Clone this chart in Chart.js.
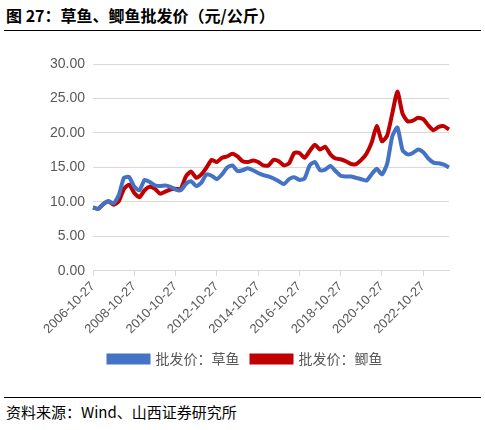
<!DOCTYPE html>
<html>
<head>
<meta charset="utf-8">
<script src="https://cdn.jsdelivr.net/npm/chart.js@4"></script>
<style>
body { margin: 0; background: #fff; font-family: "Noto Sans CJK SC", sans-serif; }
#title { position: absolute; left: 6px; top: 3px; font-size: 16px; font-weight: bold; color: #000; }
#topline { position: absolute; left: 4px; right: 4px; top: 30px; border-top: 1px solid #000; }
#wrap { position: absolute; left: 0; top: 40px; width: 485px; height: 340px; }
#botline { position: absolute; left: 4px; right: 4px; top: 397px; border-top: 1px solid #000; }
#source { position: absolute; left: 6px; top: 401px; font-size: 15px; color: #000; }
</style>
</head>
<body>
<div id="title">图 27：草鱼、鲫鱼批发价（元/公斤）</div>
<div id="topline"></div>
<div id="wrap"><canvas id="c"></canvas></div>
<div id="botline"></div>
<div id="source">资料来源：Wind、山西证券研究所</div>
<script>
// 季度采样，起点 2006-10-27
const tickLabels = ['2006-10-27', '2008-10-27', '2010-10-27', '2012-10-27', '2014-10-27',
    '2016-10-27', '2018-10-27', '2020-10-27', '2022-10-27'];
const grassCarp = [9.2, 9.0, 9.7, 10.1, 9.8, 11.0, 13.5, 13.6, 12.2, 11.7,
    13.2, 12.9, 12.4, 12.3, 12.4, 12.2, 11.8, 11.7, 12.6, 13.0,
    12.3, 12.8, 14.0, 13.8, 13.3, 14.0, 15.0, 15.3, 14.5, 14.6,
    14.9, 14.6, 14.2, 13.9, 13.7, 13.4, 13.0, 12.6, 13.3, 13.6,
    13.2, 13.4, 15.3, 15.8, 14.6, 14.7, 15.2, 14.5, 13.8, 13.7,
    13.7, 13.5, 13.3, 13.1, 14.0, 14.8, 14.0, 15.5, 19.5, 20.8,
    17.5, 16.9, 17.1, 17.6, 17.2, 16.3, 15.7, 15.6, 15.4, 15.0];
const crucian = [9.2, 9.0, 9.7, 10.1, 9.6, 10.1, 11.9, 12.5, 11.3, 10.7,
    11.7, 12.2, 11.9, 11.2, 11.5, 11.8, 11.9, 11.9, 13.7, 14.4,
    13.5, 14.0, 15.0, 16.1, 15.8, 16.4, 16.6, 17.0, 16.6, 15.9,
    15.8, 16.0, 15.8, 15.3, 15.3, 16.1, 15.9, 15.3, 15.6, 17.1,
    17.1, 16.4, 17.4, 18.3, 17.6, 18.0, 16.9, 16.3, 16.2, 15.9,
    15.5, 15.5, 16.1, 17.0, 18.6, 21.0, 18.8, 19.6, 22.8, 26.0,
    22.8, 21.7, 21.8, 22.2, 22.0, 21.1, 20.4, 20.9, 21.0, 20.5];
const STEP = 8; // 两年 = 8 个季度

const labels = grassCarp.map((_, i) => i % STEP === 0 ? (tickLabels[i / STEP] || '') : '');

new Chart(document.getElementById('c'), {
    type: 'line',
    data: {
        labels: labels,
        datasets: [{
            label: '批发价：草鱼',
            data: grassCarp,
            borderColor: '#4472C4',
            backgroundColor: '#4472C4',
            borderWidth: 4,
            pointRadius: 0,
            tension: 0.2
        }, {
            label: '批发价：鲫鱼',
            data: crucian,
            borderColor: '#C00000',
            backgroundColor: '#C00000',
            borderWidth: 4,
            pointRadius: 0,
            tension: 0.2
        }]
    },
    options: {
        responsive: true,
        maintainAspectRatio: false,
        animation: false,
        layout: { padding: { left: 42, right: 36, top: 24, bottom: 4 } },
        plugins: {
            legend: {
                position: 'bottom',
                labels: {
                    boxWidth: 40,
                    boxHeight: 7,
                    color: '#595959',
                    font: { size: 14, family: 'Noto Sans CJK SC' },
                    padding: 12
                }
            },
            tooltip: { enabled: false }
        },
        scales: {
            y: {
                min: 0,
                max: 30,
                ticks: {
                    stepSize: 5,
                    color: '#595959',
                    font: { size: 14, family: 'Liberation Sans' },
                    callback: v => v.toFixed(2),
                    padding: 8
                },
                border: { display: false },
                grid: { color: '#d9d9d9', drawTicks: false }
            },
            x: {
                offset: false,
                ticks: {
                    autoSkip: false,
                    maxRotation: 45,
                    minRotation: 45,
                    color: '#595959',
                    font: { size: 13, family: 'Liberation Sans' }
                },
                border: { color: '#d9d9d9' },
                grid: {
                    drawOnChartArea: false,
                    tickLength: 5,
                    color: ctx => ctx.index % STEP === 0 ? '#d9d9d9' : 'transparent'
                }
            }
        }
    }
});
</script>
</body>
</html>
